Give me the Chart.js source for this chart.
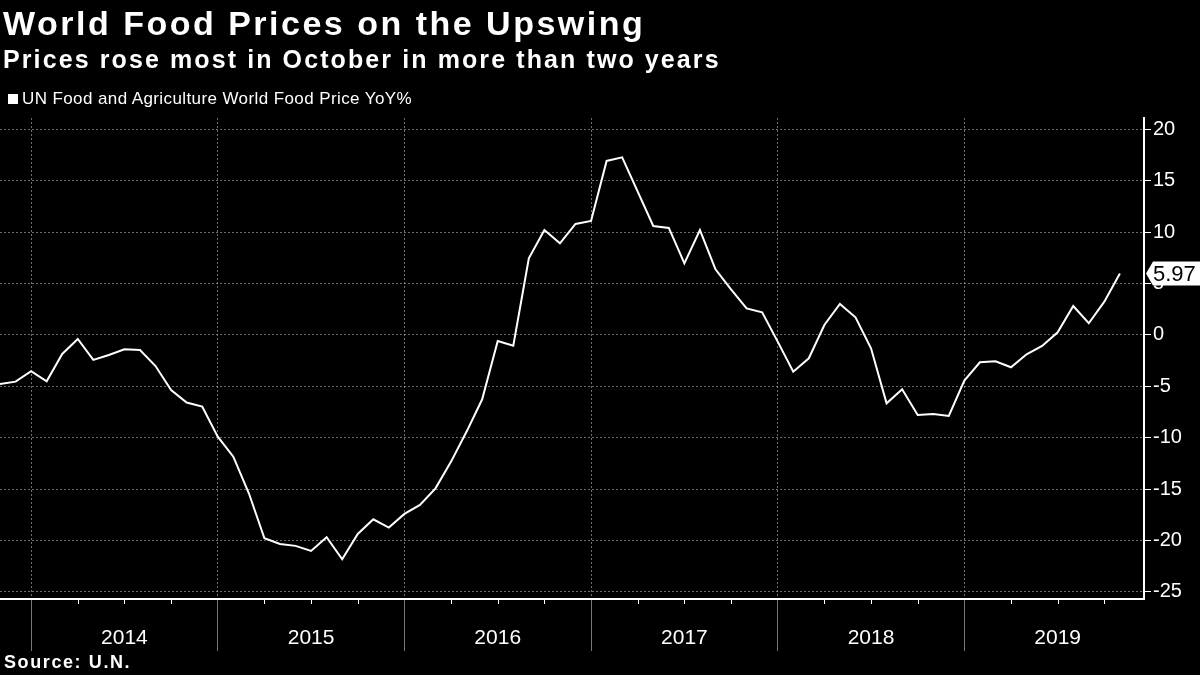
<!DOCTYPE html>
<html>
<head>
<meta charset="utf-8">
<script src="https://cdn.jsdelivr.net/npm/chart.js@4.4.1/dist/chart.umd.min.js"></script>
<style>
  body { margin: 0; background: #000; width: 1200px; height: 675px; overflow: hidden; position: relative; font-family: "Liberation Sans", Arial, sans-serif; color: #fff; }
  #title { position: absolute; left: 3px; top: 4px; font-size: 34px; font-weight: bold; white-space: nowrap; letter-spacing: 2.5px; }
  #subtitle { position: absolute; left: 3px; top: 45px; font-size: 25px; font-weight: bold; white-space: nowrap; letter-spacing: 2.1px; }
  #legend { position: absolute; left: 8px; top: 89px; font-size: 17px; white-space: nowrap; letter-spacing: 0.4px; }
  #legend .box { display: inline-block; width: 10px; height: 10px; background: #fff; margin-right: 4px; }
  #source { position: absolute; left: 4px; top: 652px; font-size: 18px; font-weight: bold; white-space: nowrap; letter-spacing: 1.6px; }
  #wrap { position: absolute; left: 0; top: 0; width: 1200px; height: 675px; }
</style>
</head>
<body>
<div id="wrap"><canvas id="chart" width="1200" height="675"></canvas></div>
<div id="title">World Food Prices on the Upswing</div>
<div id="subtitle">Prices rose most in October in more than two years</div>
<div id="legend"><span class="box"></span>UN Food and Agriculture World Food Price YoY%</div>
<div id="source">Source: U.N.</div>
<script>
// monthly readings, Oct 2013 .. Oct 2019
const months = [
    "2013-10", "2013-11", "2013-12",
    "2014-01", "2014-02", "2014-03", "2014-04", "2014-05", "2014-06", "2014-07", "2014-08", "2014-09", "2014-10", "2014-11", "2014-12",
    "2015-01", "2015-02", "2015-03", "2015-04", "2015-05", "2015-06", "2015-07", "2015-08", "2015-09", "2015-10", "2015-11", "2015-12",
    "2016-01", "2016-02", "2016-03", "2016-04", "2016-05", "2016-06", "2016-07", "2016-08", "2016-09", "2016-10", "2016-11", "2016-12",
    "2017-01", "2017-02", "2017-03", "2017-04", "2017-05", "2017-06", "2017-07", "2017-08", "2017-09", "2017-10", "2017-11", "2017-12",
    "2018-01", "2018-02", "2018-03", "2018-04", "2018-05", "2018-06", "2018-07", "2018-08", "2018-09", "2018-10", "2018-11", "2018-12",
    "2019-01", "2019-02", "2019-03", "2019-04", "2019-05", "2019-06", "2019-07", "2019-08", "2019-09", "2019-10"
];
const foodPriceYoY = [
    -4.78, -4.55, -3.54,
    -4.52, -1.86, -0.40, -2.44, -1.96, -1.40, -1.47, -3.03, -5.36, -6.59, -6.98, -9.90,
    -11.85, -15.41, -19.79, -20.34, -20.53, -21.02, -19.69, -21.83, -19.37, -17.94, -18.75, -17.42,
    -16.55, -14.93, -12.33, -9.41, -6.27, -0.59, -1.05, 7.45, 10.20, 8.91, 10.79, 11.08,
    16.92, 17.27, 13.93, 10.59, 10.40, 6.96, 10.20, 6.38, 4.43, 2.58, 2.19, -0.66,
    -3.58, -2.28, 0.96, 3.00, 1.71, -1.31, -6.66, -5.29, -7.79, -7.70, -7.89, -4.45,
    -2.67, -2.57, -3.15, -1.89, -1.08, 0.25, 2.81, 1.13, 3.23, 5.97
];
const yearLabels = ["2014", "2015", "2016", "2017", "2018", "2019"];
const yTicks = [-25, -22.5, -20, -17.5, -15, -12.5, -10, -7.5, -5, -2.5, 0, 2.5, 5, 7.5, 10, 12.5, 15, 17.5, 20];

// x = months after end of 2013 (Dec 2013 sits on the year line)
const firstYear = 2014;
const toX = (m) => {
    const [y, mo] = m.split("-").map(Number);
    return (y - firstYear) * 12 + mo;
};
const points = months.map((m, i) => ({ x: toX(m), y: foodPriceYoY[i] }));

const gridCol = "rgba(200,200,200,0.55)";
const labelFont = { family: "'Liberation Sans', Arial, sans-serif", size: 21 };

const extras = {
    id: "extras",
    afterDraw(chart) {
        const { ctx } = chart;
        const xs = chart.scales.x, ys = chart.scales.y;
        // quarter ticks under the axis
        ctx.save();
        ctx.strokeStyle = "#fff";
        ctx.lineWidth = 1;
        for (let v = 3; v < xs.max; v += 3) {
            if (v % 12 === 0) continue;
            const px = Math.round(xs.getPixelForValue(v)) + 0.5;
            ctx.beginPath();
            ctx.moveTo(px, xs.top);
            ctx.lineTo(px, xs.top + 5);
            ctx.stroke();
        }
        // last value tag
        const last = foodPriceYoY[foodPriceYoY.length - 1];
        const py = ys.getPixelForValue(last);
        const left = ys.left + 2;
        ctx.fillStyle = "#fff";
        ctx.beginPath();
        ctx.moveTo(left, py);
        ctx.lineTo(left + 7, py - 12);
        ctx.lineTo(1200, py - 12);
        ctx.lineTo(1200, py + 12);
        ctx.lineTo(left + 7, py + 12);
        ctx.closePath();
        ctx.fill();
        ctx.fillStyle = "#000";
        ctx.font = "22px 'Liberation Sans', Arial, sans-serif";
        ctx.textBaseline = "middle";
        ctx.fillText(last.toFixed(2), left + 7, py + 1);
        ctx.restore();
    }
};

new Chart(document.getElementById("chart"), {
    type: "line",
    data: {
        datasets: [{
            label: "UN Food and Agriculture World Food Price YoY%",
            data: points,
            borderColor: "#fff",
            borderWidth: 2,
            pointRadius: 0,
            tension: 0,
        }]
    },
    options: {
        responsive: false,
        animation: false,
        layout: { padding: { top: 118, left: 0, right: 0, bottom: 0 } },
        plugins: { legend: { display: false }, tooltip: { enabled: false } },
        scales: {
            x: {
                type: "linear",
                min: -2,
                max: 71.55,
                afterBuildTicks: (scale) => {
                    const t = [];
                    for (let v = 0; v < scale.max; v += 6) t.push({ value: v });
                    scale.ticks = t;
                },
                afterFit: (scale) => { scale.height = 76; },
                ticks: {
                    color: "#fff",
                    font: labelFont,
                    padding: -25,
                    maxRotation: 0,
                    autoSkip: false,
                    callback: (v) => (v % 12 === 6 ? yearLabels[(v - 6) / 12] : "")
                },
                grid: {
                    color: (c) => (c.tick && c.tick.value % 12 === 0 ? gridCol : "transparent"),
                    tickColor: (c) => (c.tick && c.tick.value % 12 === 0 ? "#777" : "transparent"),
                    tickLength: 52,
                    lineWidth: 1,
                },
                border: { color: "#fff", width: 2, dash: [2, 2] }
            },
            y: {
                position: "right",
                min: -25.7,
                max: 21.1,
                afterBuildTicks: (scale) => { scale.ticks = yTicks.map((v) => ({ value: v })); },
                afterFit: (scale) => { scale.width = 56; },
                ticks: {
                    color: "#fff",
                    font: { family: "'Liberation Sans', Arial, sans-serif", size: 20 },
                    padding: 2,
                    callback: (v) => (v % 5 === 0 ? String(v) : "")
                },
                grid: {
                    color: (c) => (c.tick && c.tick.value % 5 === 0 ? gridCol : "transparent"),
                    tickColor: "#fff",
                    tickLength: 7,
                    lineWidth: 1,
                },
                border: { color: "#fff", width: 2, dash: [2, 2] }
            }
        }
    },
    plugins: [extras]
});
</script>
</body>
</html>
